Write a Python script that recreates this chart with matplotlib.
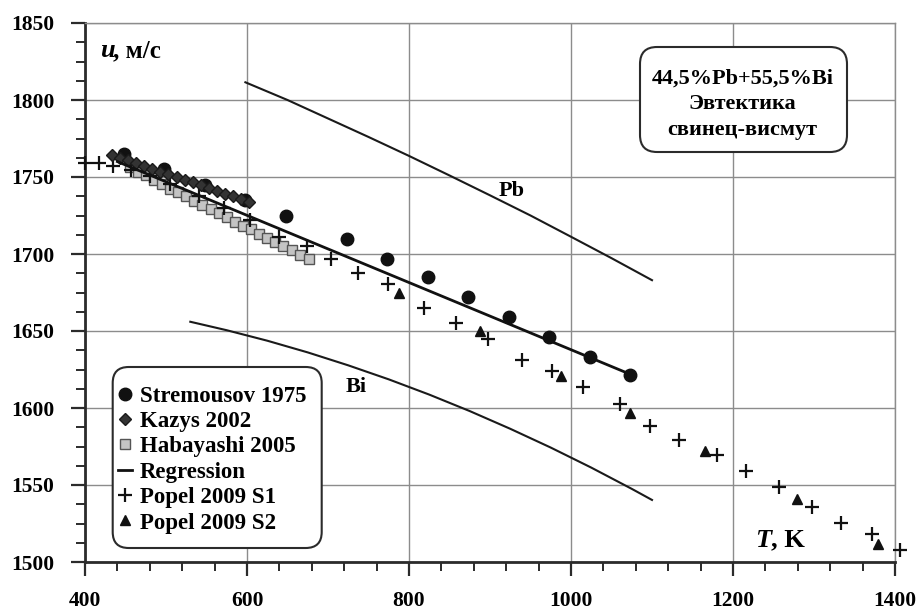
import matplotlib
matplotlib.use("Agg")
import matplotlib.pyplot as plt
from matplotlib.patches import FancyBboxPatch
from matplotlib.ticker import MultipleLocator

# ---------------------------------------------------------------
# data
# ---------------------------------------------------------------
strem_T = [448, 498, 548, 598, 648, 723, 773, 823, 873, 923, 973, 1023, 1073]
strem_u = [1765, 1755.5, 1745, 1735, 1724.5, 1710, 1697, 1685, 1672, 1659, 1646, 1633, 1621.5]

kazys_T = [433, 443, 453, 463, 473, 483, 493, 503, 513, 523, 533, 543, 553, 563, 573, 583, 593, 603]
kazys_u = [1764.5, 1762.5, 1761, 1759, 1757, 1755.5, 1753.5, 1752, 1750, 1748,
           1746.5, 1744.5, 1743, 1741, 1739, 1737.5, 1735.5, 1733.5]

haba_T = [455, 465, 475, 485, 495, 505, 515, 525, 535, 545, 555, 565,
          575, 585, 595, 605, 615, 625, 635, 645, 655, 665, 677]
haba_u = [1756.5, 1753.5, 1751, 1748, 1745.5, 1742.5, 1740, 1737.5, 1734.5, 1732, 1729, 1726.5,
          1724, 1721, 1718.5, 1716, 1713, 1710.5, 1708, 1705, 1702.5, 1699.5, 1696.5]

regr_T = [440, 1075]
regr_u = [1760, 1621.5]

popel1_T = [400, 417, 434, 457, 480, 505, 541, 571, 604, 640, 674, 704, 737, 774, 818,
            858, 898, 940, 976, 1015, 1060, 1097, 1133, 1180, 1216, 1257, 1298, 1333, 1372, 1406]
popel1_u = [1759.3, 1759.3, 1757, 1754.5, 1750.6, 1745.5, 1737.5, 1730, 1722.3, 1711, 1705, 1697,
            1687.5, 1680.3, 1664.7, 1655.4, 1644.6, 1631, 1624, 1613.8, 1602.4, 1588.3, 1579.2,
            1569.5, 1559.3, 1548.5, 1536, 1525.5, 1518, 1508]

popel2_T = [788, 888, 988, 1073, 1166, 1279, 1379]
popel2_u = [1675, 1650, 1621, 1597, 1572, 1541, 1512]

pb_T = [598, 650, 700, 750, 800, 850, 900, 950, 1000, 1050, 1100]
pb_u = [1811.5, 1800, 1788, 1776, 1763.7, 1751, 1738.1, 1725, 1711.2, 1697.3, 1683]

bi_T = [530, 575, 625, 675, 725, 775, 825, 875, 925, 975, 1025, 1075, 1100]
bi_u = [1656, 1650.5, 1643.7, 1636.1, 1627.7, 1618.6, 1608.7, 1598, 1586.5, 1574.3, 1561.3, 1547.5, 1540.3]

x_ticks = [400, 600, 800, 1000, 1200, 1400]
y_ticks = [1500, 1550, 1600, 1650, 1700, 1750, 1800, 1850]

legend_labels = ['Stremousov 1975', 'Kazys 2002', 'Habayashi 2005', 'Regression',
                 'Popel 2009 S1', 'Popel 2009 S2']
alloy_note = '44,5%Pb+55,5%Bi\nЭвтектика\nсвинец-висмут'

# ---------------------------------------------------------------
# figure
# ---------------------------------------------------------------
plt.rcParams['font.family'] = ['Liberation Serif', 'DejaVu Serif']
plt.rcParams['font.weight'] = 'bold'

fig = plt.figure(figsize=(9.18, 6.12), dpi=100)
ax = fig.add_axes([85/918, 1-562/612, 810/918, 539/612])

ax.set_xlim(400, 1400)
ax.set_ylim(1500, 1850)
ax.set_xticks(x_ticks)
ax.set_yticks(y_ticks)
ax.xaxis.set_minor_locator(MultipleLocator(40))
ax.yaxis.set_minor_locator(MultipleLocator(12.5))

ax.grid(True, which='major', color='#8c8c8c', lw=1.0)
ax.set_axisbelow(True)

for side in ['left', 'bottom']:
    ax.spines[side].set_color('#2b2b2b')
    ax.spines[side].set_linewidth(2.0)
for side in ['top', 'right']:
    ax.spines[side].set_color('#8c8c8c')
    ax.spines[side].set_linewidth(1.0)

ax.tick_params(which='major', direction='out', length=10, width=1.6, color='#2b2b2b',
               labelsize=15.5)
ax.tick_params(which='minor', direction='out', length=6.5, width=1.4, color='#2b2b2b')
ax.tick_params(axis='y', which='major', pad=12)
ax.tick_params(axis='x', which='major', pad=11)
for lab in ax.get_xticklabels() + ax.get_yticklabels():
    lab.set_fontweight('bold')

# reference curves for pure metals
ax.plot(pb_T, pb_u, color='#1a1a1a', lw=1.5)
ax.plot(bi_T, bi_u, color='#1a1a1a', lw=1.5)

# data series
h_strem, = ax.plot(strem_T, strem_u, 'o', color='#111111', ms=9, ls='none', zorder=4)
h_kaz, = ax.plot(kazys_T, kazys_u, 'D', mfc='#333333', mec='#1a1a1a', ms=6.5, ls='none', zorder=5)
h_hab, = ax.plot(haba_T, haba_u, 's', mfc='#c4c4c4', mec='#555555', mew=1.0, ms=6.5, ls='none', zorder=3)
h_reg, = ax.plot(regr_T, regr_u, '-', color='#111111', lw=2.0, zorder=6)
h_p1, = ax.plot(popel1_T, popel1_u, '+', color='#111111', ms=10, mew=1.6, ls='none', zorder=4,
                clip_on=False)
h_p2, = ax.plot(popel2_T, popel2_u, '^', color='#111111', ms=7.5, ls='none', zorder=4)

# text labels
ax.text(927, 1741, 'Pb', fontsize=16, fontweight='bold', ha='center', va='center')
ax.text(735, 1613.5, 'Bi', fontsize=16, fontweight='bold', ha='center', va='center')

ax.text(418, 1828, 'u', fontsize=19, fontweight='bold', fontstyle='italic', ha='left', va='baseline')
ax.text(434, 1828, ', м/с', fontsize=18, fontweight='bold', ha='left', va='baseline')
ax.text(1227, 1510, 'T', fontsize=19, fontweight='bold', fontstyle='italic', ha='left', va='baseline')
ax.text(1247, 1510, ', K', fontsize=19, fontweight='bold', ha='left', va='baseline')


def rounded_box(x0, y0, w, h, r, z):
    """Rounded white frame, sizes in inches from the lower left of the figure."""
    box = FancyBboxPatch((x0, y0), w, h, boxstyle=f'round,pad=0,rounding_size={r}',
                         transform=fig.dpi_scale_trans, fc='white', ec='#2b2b2b',
                         lw=1.5, zorder=z, clip_on=False)
    ax.add_artist(box)


# composition note, top right
rounded_box(6.40, 4.60, 2.07, 1.05, 0.17, 9)
ax.text(1212, 1797.2, alloy_note, fontsize=16, fontweight='bold', ha='center', va='center',
        linespacing=1.36, zorder=10)

# legend in its own rounded frame
rounded_box(1.127, 0.64, 2.09, 1.81, 0.16, 9)
leg = ax.legend([h_strem, h_kaz, h_hab, h_reg, h_p1, h_p2], legend_labels,
                loc='center left', bbox_to_anchor=(118/918, 1-459.5/612),
                bbox_transform=fig.transFigure, borderaxespad=0, borderpad=0,
                prop={'family': 'Liberation Serif', 'weight': 'bold', 'size': 16.5},
                handlelength=0.6, handletextpad=0.36, labelspacing=0.19,
                frameon=False)
leg.set_zorder(10)

fig.savefig('out.png', dpi=100)
